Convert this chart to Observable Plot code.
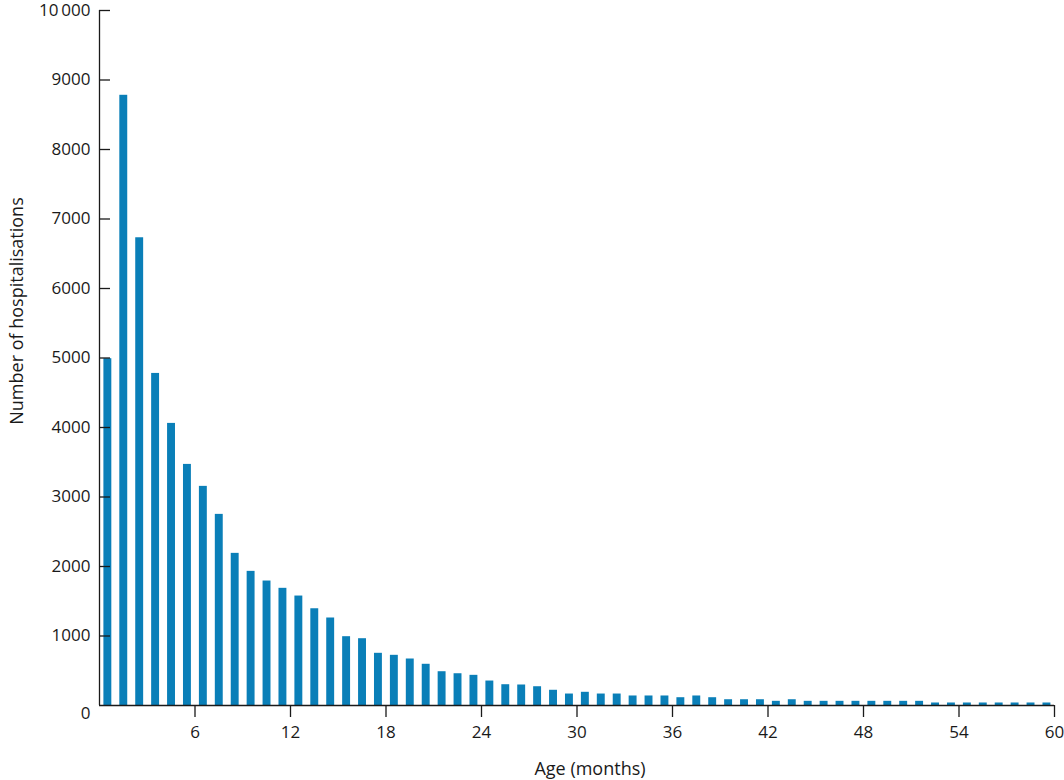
<!DOCTYPE html>
<html>
<head>
<meta charset="utf-8">
<script src="https://cdn.jsdelivr.net/npm/d3@7"></script>
<script src="https://cdn.jsdelivr.net/npm/@observablehq/plot@0.6"></script>
<style>
  html, body { margin: 0; padding: 0; background: #fff; }
  #chart svg { display: block; }
</style>
</head>
<body>
<div id="chart"></div>
<script>
// Age in months (bar for month m covers [m, m+1))
const months = d3.range(0, 60);
// Number of hospitalisations per month of age
const hospitalisations = [
  4990, 8780, 6730, 4778, 4059, 3469, 3153, 2750, 2189, 1930,
  1791, 1686, 1575, 1392, 1259, 990, 961, 751, 722, 669,
  593, 486, 457, 434, 352, 299, 295, 270, 219, 165,
  190, 165, 165, 137, 137, 137, 112, 137, 112, 83,
  83, 83, 60, 83, 60, 60, 60, 60, 60, 60,
  60, 60, 36, 36, 36, 36, 36, 36, 36, 36
];
const xTicks = [6, 12, 18, 24, 30, 36, 42, 48, 54, 60];
const yTicks = [1000, 2000, 3000, 4000, 5000, 6000, 7000, 8000, 9000, 10000];
const xLabel = "Age (months)";
const yLabel = "Number of hospitalisations";

const data = months.map((m, i) => ({month: m, value: hospitalisations[i]}));
const fmt = d => d >= 10000 ? d3.format(",")(d).replace(/,/g, "\u2009") : String(d);

const font = "'Open Sans', sans-serif";
const ink = "#1a1a1a";

const chart = Plot.plot({
  width: 1064,
  height: 780,
  marginLeft: 99,
  marginRight: 10,
  marginTop: 10,
  marginBottom: 75,
  style: {fontFamily: font, fontSize: "17px", color: ink, background: "#fff"},
  x: {domain: [0, 60]},
  y: {domain: [0, 10000]},
  marks: [
    Plot.rectY(data, {
      x1: "month",
      x2: d => d.month + 1,
      y: "value",
      fill: "#0a7fb8",
      insetLeft: 4.4,
      insetRight: 3.6
    }),
    // y axis: ticks pointing inward
    Plot.axisY({ticks: yTicks, tickSize: 11, dx: 11, text: null, label: null, stroke: ink, strokeWidth: 1.3}),
    Plot.axisY({ticks: yTicks, tickSize: 0, tickPadding: 9, tickFormat: fmt, label: null, fontSize: 17}),
    Plot.axisY({ticks: [0], tickSize: 0, tickPadding: 9, tickFormat: fmt, label: null, dy: 8, fontSize: 17}),
    // x axis
    Plot.axisX({ticks: xTicks, tickSize: 12, tickPadding: 8, label: null, stroke: ink, strokeWidth: 1.3, fontSize: 17}),
    Plot.ruleX([0], {stroke: ink, strokeWidth: 1.3}),
    Plot.ruleY([0], {stroke: ink, strokeWidth: 1.3}),
    Plot.text([xLabel], {frameAnchor: "bottom", textAnchor: "middle", lineAnchor: "middle", dx: 13, dy: 64, fontSize: 18, fill: ink}),
    Plot.text([yLabel], {frameAnchor: "left", textAnchor: "middle", rotate: -90, dx: -82, dy: -47, fontSize: 18, fill: ink})
  ]
});

document.getElementById("chart").appendChild(chart);
</script>
</body>
</html>
